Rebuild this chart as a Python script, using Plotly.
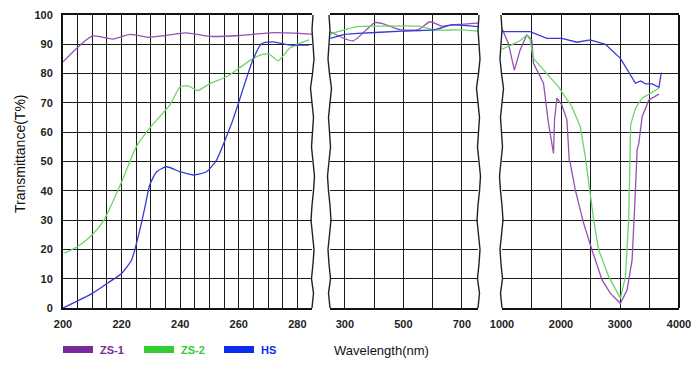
import plotly.graph_objects as go

# ---------------- data ----------------
# Panel 1 (200-285 nm)
p1_zs1_x = [200, 210, 217, 223, 229, 235, 242, 250, 260, 272, 285]
p1_zs1_y = [84.0, 92.8, 91.8, 93.4, 92.4, 93.0, 93.9, 92.7, 93.0, 94.0, 93.5]
p1_zs2_x = [200.5, 205, 210, 214, 220, 225, 229.5, 236.5, 240, 242.7, 246, 250, 256, 260, 265, 269, 270.5, 273.4, 277.3, 280.7, 284]
p1_zs2_y = [18.7, 21.0, 25.0, 30.0, 43.0, 55.0, 61.3, 69.3, 75.5, 75.8, 74.2, 76.5, 79.0, 81.8, 85.2, 86.7, 86.6, 84.4, 88.6, 90.3, 91.5]
p1_hs_x = [200, 210, 216, 220, 223.4, 226.2, 228, 229.6, 232, 235.3, 240, 244.4, 249, 252.4, 255.8, 258, 259.7, 264.8, 267.7, 271.6, 277.3, 284]
p1_hs_y = [0.0, 5.0, 9.0, 11.8, 16.4, 26.6, 34.6, 42.0, 46.5, 48.2, 46.5, 45.4, 46.5, 50.5, 58.5, 64.2, 69.3, 84.6, 90.1, 90.8, 89.8, 89.7]

# Panel 2 (250-755 nm)
p2_zs1_x = [250, 328, 402, 431, 488, 551, 591, 631, 665, 755]
p2_zs1_y = [94.3, 91.2, 97.4, 97.0, 95.0, 95.0, 97.7, 96.2, 96.6, 97.2]
p2_zs2_x = [250, 340, 402, 551, 608, 688, 755]
p2_zs2_y = [93.5, 96.0, 96.2, 96.2, 94.9, 94.9, 94.5]
p2_hs_x = [250, 300, 344, 494, 608, 665, 755]
p2_hs_y = [92.0, 93.4, 93.7, 94.5, 95.0, 96.6, 96.0]

# Panel 3 (1000-4000 nm)
p3_zs1_x = [1000, 1108, 1210, 1306, 1420, 1505, 1533, 1703, 1788, 1873, 1890, 1930, 2015, 2100, 2140, 2157, 2242, 2384, 2525, 2696, 2837, 3007, 3120, 3205, 3262, 3290, 3319, 3375, 3490, 3660]
p3_zs1_y = [95.4, 90.3, 81.2, 88.0, 93.2, 91.5, 83.5, 76.7, 63.0, 52.8, 64.2, 71.6, 69.3, 64.2, 50.5, 49.4, 40.3, 28.9, 19.8, 9.6, 5.0, 1.6, 6.1, 16.4, 40.3, 53.9, 56.2, 65.3, 71.0, 73.0]
p3_zs2_x = [1000, 1165, 1306, 1420, 1476, 1533, 1732, 1958, 2185, 2327, 2412, 2497, 2554, 2639, 2809, 3007, 3092, 3149, 3165, 3180, 3262, 3375, 3660]
p3_zs2_y = [88.3, 89.8, 91.2, 93.2, 91.5, 85.2, 80.7, 75.5, 68.7, 61.9, 51.6, 39.1, 30.0, 19.8, 10.7, 3.3, 10.7, 31.2, 53.9, 62.5, 68.2, 71.6, 75.0]
p3_hs_x = [1000, 1476, 1760, 2015, 2270, 2497, 2752, 3007, 3262, 3348, 3433, 3547, 3660, 3700]
p3_hs_y = [94.3, 94.3, 92.0, 92.0, 90.7, 91.5, 90.0, 85.2, 76.7, 77.5, 76.5, 76.5, 75.3, 80.3]

series_names = ["ZS-1", "ZS-2", "HS"]
line_colors = ["#9650b4", "#6ed468", "#3838d6"]
legend_colors = ["#7a2a9c", "#33cc33", "#0a2cf0"]
y_ticks = list(range(0, 101, 10))

# ---------------- layout geometry (page pixels) ----------------
OFF = 8                      # default body margin of the html page
PAGE_W, PAGE_H = 700, 371
W, H = PAGE_W - 2 * OFF, PAGE_H - 2 * OFF
P_LEFT, P_RIGHT, P_TOP, P_BOTTOM = 63, 679, 15, 308
ML = P_LEFT - OFF
MT = P_TOP - OFF
MR = W - (P_RIGHT - OFF)
MB = H - (P_BOTTOM - OFF)
PW = P_RIGHT - P_LEFT
PH = P_BOTTOM - P_TOP

def px_x(px):
    return (px - P_LEFT) / PW

def px_y(py):
    return (P_BOTTOM - py) / PH

dom1 = [0.0, px_x(312)]
dom2 = [px_x(330), px_x(478)]
dom3 = [px_x(502), 1.0]

fig = go.Figure()
panels = [
    ("x", "y", [(p1_zs1_x, p1_zs1_y), (p1_zs2_x, p1_zs2_y), (p1_hs_x, p1_hs_y)], "spline"),
    ("x2", "y2", [(p2_zs1_x, p2_zs1_y), (p2_zs2_x, p2_zs2_y), (p2_hs_x, p2_hs_y)], "spline"),
    ("x3", "y3", [(p3_zs1_x, p3_zs1_y), (p3_zs2_x, p3_zs2_y), (p3_hs_x, p3_hs_y)], "linear"),
]
for xa, ya, data, shape in panels:
    for i, (xs, ys) in enumerate(data):
        ln = dict(color=line_colors[i], width=1.3, shape=shape)
        if shape == "spline":
            ln["smoothing"] = 0.6
        fig.add_trace(go.Scatter(
            x=xs, y=ys, xaxis=xa, yaxis=ya, mode="lines", line=ln,
            name=series_names[i], showlegend=False, hoverinfo="skip"))

GRID = "#1a1a1a"
FAM = "Liberation Sans, Arial, sans-serif"
TICKFONT = dict(family=FAM, size=11, color="#222", weight="bold")

def xaxis(domain, rng, tick0, dtick, minor_dtick, anchor):
    return dict(domain=domain, range=rng, anchor=anchor, tick0=tick0, dtick=dtick,
                showgrid=True, gridcolor=GRID, gridwidth=1.4,
                minor=dict(tick0=tick0, dtick=minor_dtick, showgrid=True, gridcolor=GRID, gridwidth=1.4, ticks=""),
                showline=True, linecolor="#111", linewidth=2, mirror=True,
                zeroline=False, ticks="", tickfont=TICKFONT, ticklabelstandoff=5,
                fixedrange=True)

def yaxis(anchor, show_labels):
    return dict(domain=[0, 1], range=[0, 100], anchor=anchor, tickvals=y_ticks,
                showgrid=True, gridcolor=GRID, gridwidth=1.4, zeroline=False,
                showticklabels=show_labels, tickfont=TICKFONT, ticks="",
                ticklabelstandoff=6,
                showline=show_labels, linecolor="#111", linewidth=2,
                fixedrange=True)

fig.update_layout(
    width=W, height=H, margin=dict(l=ML, r=MR, t=MT, b=MB, autoexpand=False),
    paper_bgcolor="white", plot_bgcolor="white", showlegend=False,
    xaxis=xaxis(dom1, [200, 285], 200, 20, 5, "y"),
    xaxis2=xaxis(dom2, [249, 755], 300, 200, 100, "y2"),
    xaxis3=xaxis(dom3, [1000, 4000], 1000, 1000, 500, "y3"),
    yaxis=yaxis("x", True),
    yaxis2=yaxis("x2", False),
    yaxis3=yaxis("x3", False),
)

# wavy break edges (decoration)
wiggle = [0, 1.5, -0.5, 1.0, 2.0, 0.5, -1.0, 0.0, 1.5, 2.5, 1.0, -0.5, 0.5, 1.5, 0.0, -1.5, 0.5, 2.0, 1.0, 0.0, 1.0]

def wavy(edge_px, sign=1):
    n = len(wiggle)
    pts = []
    for k, dx in enumerate(wiggle):
        pts.append(f"{px_x(edge_px + sign * dx):.5f},{k / (n - 1):.5f}")
    return "M " + " L ".join(pts)

shapes = []
for edge, sgn in [(312, 1), (330, -1), (478, 1), (502, -1)]:
    shapes.append(dict(type="path", path=wavy(edge, sgn), xref="paper", yref="paper",
                       line=dict(color="#222", width=1.4)))
shapes.append(dict(type="line", x0=1, x1=1, y0=0, y1=1, xref="paper", yref="paper",
                   line=dict(color="#111", width=2)))

# legend (manual)
leg_x = [63, 144, 224]
annotations = []
for i, name in enumerate(series_names):
    shapes.append(dict(type="rect", xref="paper", yref="paper",
                       x0=px_x(leg_x[i]), x1=px_x(leg_x[i] + 30),
                       y0=px_y(353), y1=px_y(346),
                       fillcolor=legend_colors[i], line=dict(width=0)))
    annotations.append(dict(text=name, xref="paper", yref="paper",
                            x=px_x(leg_x[i] + 35), y=px_y(349.5),
                            xanchor="left", yanchor="middle", showarrow=False,
                            font=dict(family=FAM, size=11, color=legend_colors[i], weight="bold")))

annotations.append(dict(text="Wavelength(nm)", xref="paper", yref="paper",
                        x=px_x(332), y=px_y(350), xanchor="left", yanchor="middle",
                        showarrow=False, font=dict(family=FAM, size=13, color="#111")))
annotations.append(dict(text="Transmittance(T%)", xref="paper", yref="paper",
                        x=px_x(20), y=px_y(154), xanchor="center", yanchor="middle", textangle=-90,
                        showarrow=False, font=dict(family=FAM, size=14, color="#111")))

fig.update_layout(shapes=shapes, annotations=annotations)
fig.write_html("out.html")
